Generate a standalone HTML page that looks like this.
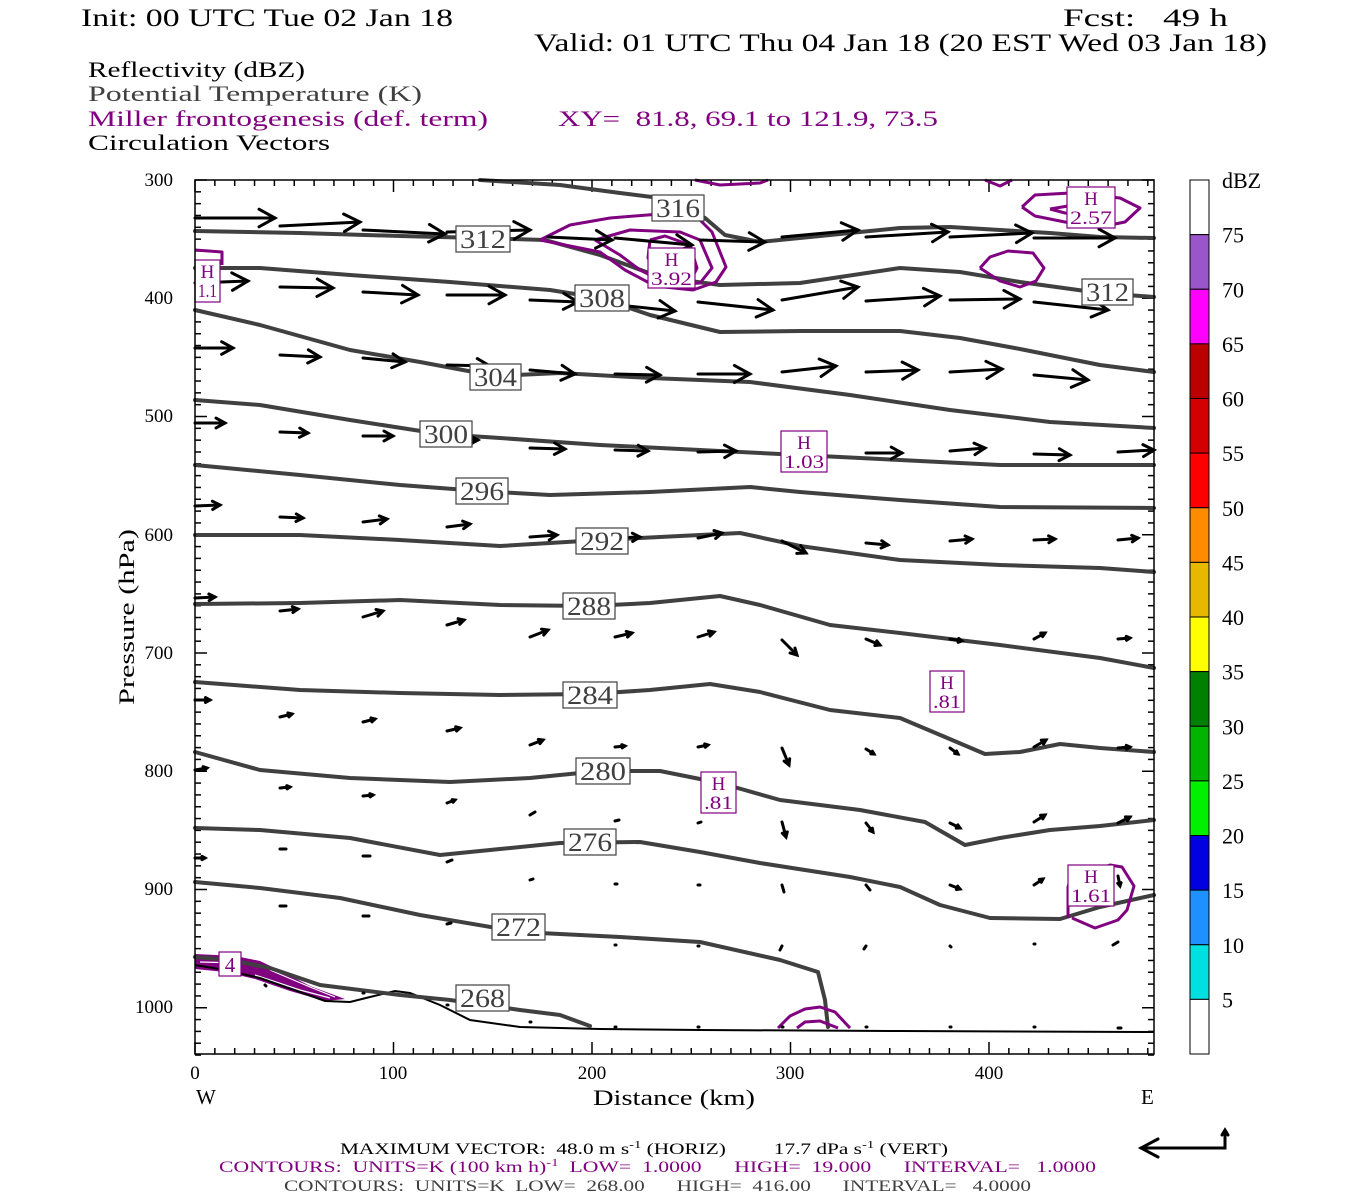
<!DOCTYPE html>
<html><head><meta charset="utf-8"><style>
html,body{margin:0;padding:0;background:#fff;}
svg{display:block;}
text{font-family:"Liberation Serif","DejaVu Serif",serif;white-space:pre;}
</style></head><body>
<svg id="s" width="1350" height="1200" viewBox="0 0 1350 1200" xmlns="http://www.w3.org/2000/svg" xml:space="preserve">
<rect width="1350" height="1200" fill="#fff"/>
<text x="81" y="26" font-size="25" textLength="372" lengthAdjust="spacingAndGlyphs">Init: 00 UTC Tue 02 Jan 18</text>
<text x="1063" y="26" font-size="25" textLength="165" lengthAdjust="spacingAndGlyphs">Fcst:   49 h</text>
<text x="534" y="51" font-size="25" textLength="733" lengthAdjust="spacingAndGlyphs">Valid: 01 UTC Thu 04 Jan 18 (20 EST Wed 03 Jan 18)</text>
<text x="88" y="77" font-size="22" textLength="217" lengthAdjust="spacingAndGlyphs">Reflectivity (dBZ)</text>
<text x="88" y="101" font-size="22" fill="#404040" textLength="334" lengthAdjust="spacingAndGlyphs">Potential Temperature (K)</text>
<text x="88" y="126" font-size="22" fill="#800080" textLength="400" lengthAdjust="spacingAndGlyphs">Miller frontogenesis (def. term)</text>
<text x="558" y="126" font-size="22" fill="#800080" textLength="380" lengthAdjust="spacingAndGlyphs">XY=  81.8, 69.1 to 121.9, 73.5</text>
<text x="88" y="150" font-size="22" textLength="242" lengthAdjust="spacingAndGlyphs">Circulation Vectors</text>

<g id="ticks" stroke="#000" stroke-width="1.5"></g>

<polygon points="195,954 235,956 260,961 285,973 310,986 345,999 325,1001 290,991 255,979 225,972 195,969" fill="#800080"/>
<g stroke="#fff" stroke-width="1.2" fill="none">
<polyline points="255,975 300,990 330,998"/><polyline points="270,970 310,987 335,997"/><polyline points="200,962 240,963"/>
</g>

<polyline fill="none" stroke="#000" stroke-width="2" points="195,965 225,970 260,978 300,992 325,1001 350,1002 370,997 395,991 410,993 440,1005 470,1020 520,1027 600,1029 700,1030 900,1031 1154,1032"/>

<g fill="none" stroke="#404040" stroke-width="4" stroke-linejoin="round" stroke-linecap="round">
<polyline points="480,180 560,185 620,193 660,198 705,218 725,235 760,242 820,236 900,228 950,227 1000,230 1050,233 1100,237 1154,238"/>
<polyline points="195,231 300,233 400,236 480,238 545,240 600,255 660,277 720,285 800,283 900,268 960,272 1020,282 1100,293 1154,297"/>
<polyline points="195,268 260,268 350,275 450,282 550,290 600,298 650,315 720,332 800,331 900,331 960,338 1020,349 1100,365 1154,372"/>
<polyline points="195,310 260,325 350,350 420,362 495,376 560,373 650,378 750,382 850,395 950,410 1050,422 1154,428"/>
<polyline points="195,400 260,405 350,420 440,434 500,438 600,445 700,450 800,455 900,460 1000,465 1154,465"/>
<polyline points="195,465 300,475 400,485 480,491 550,495 650,492 750,487 800,492 900,500 1000,507 1154,508"/>
<polyline points="195,535 300,535 400,540 500,546 600,540 700,535 740,533 800,546 900,560 1000,565 1100,568 1154,572"/>
<polyline points="195,604 300,603 400,600 500,605 590,606 650,603 720,596 760,605 830,625 900,633 1000,645 1100,658 1154,668"/>
<polyline points="195,682 300,690 400,693 500,695 590,694 650,690 710,684 760,692 830,710 900,718 945,737 985,754 1020,752 1060,744 1100,748 1154,752"/>
<polyline points="195,752 260,770 350,778 450,782 530,778 600,771 660,771 720,783 780,800 860,810 925,822 965,845 1000,838 1050,830 1100,826 1154,820"/>
<polyline points="195,828 260,830 350,838 440,855 500,849 560,843 640,842 700,852 760,863 850,877 900,887 940,905 990,918 1060,919 1100,907 1154,895"/>
<polyline points="195,882 260,888 340,898 420,915 520,932 620,937 700,942 780,960 818,972 825,1000 828,1027"/>
<polyline points="195,957 230,960 270,968 320,985 400,995 450,1000 520,1010 560,1015 590,1026"/>
</g>

<g fill="none" stroke="#800080" stroke-width="3" stroke-linejoin="round">
<polyline points="540,240 570,225 610,218 660,214 700,220 712,232 726,267 716,282 693,290 655,286 625,270 600,252 560,244 540,240"/>
<polyline points="595,240 630,230 680,232 700,240 712,268 700,283 670,285 640,270 620,255 595,240"/>
<polyline points="650,240 665,236 690,245 697,268 690,282 660,277 648,258 650,240"/>
<polyline points="695,180 720,185 760,183 768,180"/>
<polyline points="985,180 1000,186 1012,180"/>
<polyline points="1022,207 1035,195 1070,193 1120,198 1140,208 1125,222 1100,227 1070,223 1035,216 1022,207"/>
<polyline points="1050,209 1080,204 1110,208 1100,215 1065,213 1050,209"/>
<polyline points="980,268 990,257 1008,251 1033,253 1044,268 1036,281 1020,287 1000,281 980,268"/>
<polyline points="195,250 222,252 222,265"/>
<polyline points="1068,918 1068,887 1070,880 1110,865 1122,867 1134,886 1127,910 1118,920 1095,928 1072,918"/>
<polyline points="778,1028 790,1016 805,1009 820,1007 835,1012 850,1028"/>
<polyline points="797,1028 805,1022 820,1021 838,1028"/>
</g>

<g id="vec" stroke="#000" stroke-width="3" fill="none" stroke-linecap="round"></g>
<g id="glabels" font-size="26" fill="#404040"></g>
<g id="plabels" fill="#800080"></g>

<rect x="195" y="180" width="959" height="874" fill="none" stroke="#000" stroke-width="1.5"/>

<g font-size="19">
<text x="173" y="186" text-anchor="end">300</text>
<text x="173" y="304" text-anchor="end">400</text>
<text x="173" y="422" text-anchor="end">500</text>
<text x="173" y="541" text-anchor="end">600</text>
<text x="173" y="659" text-anchor="end">700</text>
<text x="173" y="777" text-anchor="end">800</text>
<text x="173" y="895" text-anchor="end">900</text>
<text x="173" y="1013" text-anchor="end">1000</text>
<text x="195" y="1079" text-anchor="middle">0</text>
<text x="393" y="1079" text-anchor="middle">100</text>
<text x="592" y="1079" text-anchor="middle">200</text>
<text x="790" y="1079" text-anchor="middle">300</text>
<text x="989" y="1079" text-anchor="middle">400</text>
</g>
<text x="196" y="1104" font-size="21">W</text>
<text x="1141" y="1104" font-size="21">E</text>
<text x="674" y="1105" font-size="22" text-anchor="middle" textLength="162" lengthAdjust="spacingAndGlyphs">Distance (km)</text>
<text transform="translate(134,617) rotate(-90)" font-size="22" text-anchor="middle" textLength="176" lengthAdjust="spacingAndGlyphs">Pressure (hPa)</text>

<g id="cbar" stroke="#000" stroke-width="1"></g>
<text x="1222" y="188" font-size="22">dBZ</text>

<text x="340" y="1154" font-size="16" textLength="608" lengthAdjust="spacingAndGlyphs">MAXIMUM VECTOR:  48.0 m s<tspan dy="-6" font-size="11">-1</tspan><tspan dy="6"> (HORIZ)         17.7 dPa s</tspan><tspan dy="-6" font-size="11">-1</tspan><tspan dy="6"> (VERT)</tspan></text>
<text x="219" y="1172" font-size="16" fill="#800080" textLength="877" lengthAdjust="spacingAndGlyphs">CONTOURS:  UNITS=K (100 km h)<tspan dy="-6" font-size="11">-1</tspan><tspan dy="6">  LOW=  1.0000      HIGH=  19.000      INTERVAL=   1.0000</tspan></text>
<text x="284" y="1191" font-size="16" fill="#404040" textLength="747" lengthAdjust="spacingAndGlyphs">CONTOURS:  UNITS=K  LOW=  268.00      HIGH=  416.00      INTERVAL=   4.0000</text>
<g stroke="#000" stroke-width="3" fill="none" stroke-linecap="round">
<polyline points="1141,1148 1225,1148 1225,1131"/>
<polyline points="1158,1139 1141,1148 1158,1157"/>
<polyline points="1222,1135 1225,1130 1228,1135"/>
</g>
</svg>
<script>
var NS="http://www.w3.org/2000/svg";
function el(p,t,a,txt){var e=document.createElementNS(NS,t);for(var k in a)e.setAttribute(k,a[k]);if(txt!==undefined)e.textContent=txt;p.appendChild(e);return e;}
var tg=document.getElementById('ticks');
for(var p=300;p<=1040;p+=10){var y=180+(p-300)*1.1825;var L=(p%100==0)?12:6;
 el(tg,'line',{x1:195,y1:y,x2:195+L,y2:y});el(tg,'line',{x1:1154,y1:y,x2:1154-L,y2:y});}
for(var d=0;d<=480;d+=10){var x=195+d*1.985;var L=(d%100==0)?12:6;
 el(tg,'line',{x1:x,y1:180,x2:x,y2:180+L});el(tg,'line',{x1:x,y1:1054,x2:x,y2:1054-L});}
var V=[
[195,218,275,218],[280,226,360,222],[363,230,445,234],[447,232,530,230],[548,237,612,240],[615,238,692,245],[700,240,765,242],[782,237,858,230],[866,237,948,232],[950,237,1032,233],[1034,238,1115,238],
[195,283,248,281],[280,287,333,288],[363,292,418,295],[447,295,505,295],[530,300,578,302],[600,303,675,311],[698,302,773,310],[782,300,858,287],[866,301,940,296],[950,300,1020,299],[1034,302,1108,310],
[195,348,233,348],[280,355,320,357],[363,358,405,362],[447,365,490,366],[530,370,575,374],[615,374,660,375],[698,374,750,374],[782,372,836,366],[866,372,918,370],[950,372,1002,369],[1034,375,1088,380],
[195,423,225,423],[280,432,308,433],[363,436,393,436],[447,440,478,440],[530,448,565,449],[615,450,648,451],[698,452,736,451],[782,452,817,453],[866,453,902,453],[950,451,985,448],[1034,454,1070,455],[1118,452,1154,450],
[195,506,220,505],[280,517,303,518],[363,522,387,519],[447,527,470,524],[530,537,557,535],[615,538,640,537],[698,538,722,533],[782,541,806,553],[866,543,888,545],[950,541,972,539],[1034,540,1055,539],[1118,540,1138,538],
[195,598,215,597],[280,611,298,609],[363,617,383,611],[447,625,464,620],[530,637,548,630],[615,637,632,633],[698,637,714,632],[782,640,797,655],[866,639,880,645],[950,639,962,641],[1034,639,1045,633],[1118,639,1130,638],
[195,700,210,700],[280,717,292,714],[363,722,375,719],[447,731,460,728],[530,745,543,740],[615,747,625,746],[698,747,708,745],[782,748,789,765],[866,749,874,754],[950,748,958,754],[1034,747,1046,740],[1118,748,1130,747],
[195,770,207,768],[280,788,290,787],[363,796,373,795],[447,803,455,800],[530,815,535,812],[615,821,619,820],[698,823,701,822],[782,822,786,837],[866,823,873,832],[950,823,960,828],[1034,822,1045,815],[1118,823,1130,817],
[195,858,205,858],[280,849,286,849],[363,856,370,856],[447,862,452,860],[530,880,533,879],[615,884,617,884],[698,885,700,885],[782,885,784,892],[866,885,870,890],[950,885,960,889],[1034,885,1043,879],[1118,876,1120,886],
[280,906,286,906],[363,916,369,916],[447,924,451,923],[530,935,532,935],[615,945,616,945],[698,946,699,946],[782,946,780,950],[866,946,864,949],[950,946,951,947],[1034,944,1035,944],[1118,942,1113,945],
[265,985,266,986],[363,993,364,993],[447,1005,448,1005],[530,1022,531,1022],[615,1027,616,1027],[698,1027,699,1027],[782,1027,783,1027],[866,1027,867,1027],[950,1027,951,1027],[1034,1027,1035,1027],[1118,1028,1121,1028]];
var vg=document.getElementById('vec');
V.forEach(function(v){var dx=v[2]-v[0],dy=v[3]-v[1],l=Math.sqrt(dx*dx+dy*dy);
 el(vg,'line',{x1:v[0],y1:v[1],x2:v[2],y2:v[3]});
 if(l>8){var h=Math.min(16,l*0.3),ux=dx/l,uy=dy/l,w=h*0.55;
  var bx=v[2]-ux*h,by=v[3]-uy*h;
  el(vg,'polyline',{points:(bx-uy*w)+','+(by+ux*w)+' '+v[2]+','+v[3]+' '+(bx+uy*w)+','+(by-ux*w)});}
});
var G=[[652,195,52,'316'],[456,226,54,'312'],[575,285,54,'308'],[470,364,51,'304'],[420,421,52,'300'],[456,478,52,'296'],[576,528,52,'292'],[563,593,52,'288'],[563,682,54,'284'],[576,758,54,'280'],[564,829,52,'276'],[492,914,53,'272'],[456,985,53,'268'],[1082,279,51,'312']];
var gg=document.getElementById('glabels');
G.forEach(function(a){el(gg,'rect',{x:a[0],y:a[1],width:a[2],height:26,fill:'#fff',stroke:'#404040','stroke-width':1.2});
 el(gg,'text',{x:a[0]+a[2]/2,y:a[1]+22,'text-anchor':'middle',textLength:a[2]-8,lengthAdjust:'spacingAndGlyphs'},a[3]);});
var P=[[648,248,47,40,'3.92'],[781,431,46,41,'1.03'],[930,671,34,41,'.81'],[701,772,35,41,'.81'],[1068,865,46,41,'1.61'],[1067,187,48,41,'2.57'],[195,260,25,42,'1.1']];
var pg=document.getElementById('plabels');
P.forEach(function(a){el(pg,'rect',{x:a[0],y:a[1],width:a[2],height:a[3],fill:'#fff',stroke:'#800080','stroke-width':1.2});
 el(pg,'text',{x:a[0]+a[2]/2,y:a[1]+18,'text-anchor':'middle','font-size':19},'H');
 el(pg,'text',{x:a[0]+a[2]/2,y:a[1]+37,'text-anchor':'middle','font-size':19,textLength:a[2]-6,lengthAdjust:'spacingAndGlyphs'},a[4]);});
el(pg,'rect',{x:219,y:952,width:22,height:24,fill:'#fff',stroke:'#800080','stroke-width':1.2});
el(pg,'text',{x:230,y:972,'text-anchor':'middle','font-size':21},'4');
var C=['#fff','#9955c9','#ff00ff','#bb0000','#d40000','#ff0000','#ff8c00','#e6b800','#ffff00','#008000','#00b400','#00f000','#0000e0','#1e90ff','#00e0e0','#fff'];
var cg=document.getElementById('cbar');var h=874/16;
for(var i=0;i<16;i++){el(cg,'rect',{x:1190,y:180+i*h,width:19,height:h,fill:C[i]});}
var labs=['75','70','65','60','55','50','45','40','35','30','25','20','15','10','5'];
for(var i=0;i<15;i++){el(document.getElementById('s'),'text',{x:1222,y:180+(i+1)*h+8,'font-size':22},labs[i]);}
</script>
</body></html>
